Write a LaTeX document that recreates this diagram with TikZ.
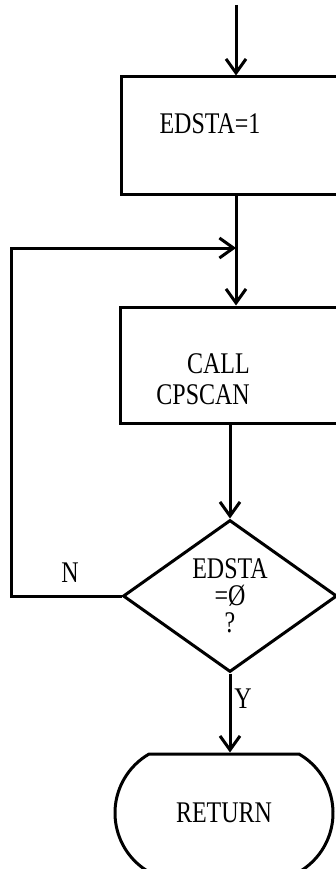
\documentclass[tikz,border=0pt]{standalone}
\usepackage{fontspec}
\setmainfont{Liberation Serif}[FakeStretch=0.8]
\usetikzlibrary{arrows.meta,shapes.geometric,shapes.misc}
\tikzset{
  ln/.style={line width=3pt},
  arr/.style={ln,-{Straight Barb[length=14pt,width=20pt,line width=3pt]}},
  procbox/.style={ln,draw,rectangle,inner sep=0pt},
  txt/.style={inner sep=0pt,font=\fontsize{30}{31}\selectfont},
  decis/.style={ln,draw,diamond,inner sep=0pt,align=center,font=\fontsize{30}{27}\selectfont},
  term/.style={ln,draw,rounded rectangle,rounded rectangle arc length=120,inner sep=0pt,font=\fontsize{30}{31}\selectfont}
}
\begin{document}
\begin{tikzpicture}[x=1pt,y=-1pt]
\useasboundingbox (0,0) rectangle (336,869);
\clip (0,0) rectangle (336,869);
\fill[white] (0,0) rectangle (336,869);
% nodes
\coordinate (start) at (236,5);
\node[procbox,minimum width=229pt,minimum height=117pt] (box1) at (235.5,135.5) {};
\node[txt,anchor=base] (t1) at (210,134) {EDSTA=1};
\coordinate (J) at (236,248);
\node[procbox,minimum width=230pt,minimum height=116pt] (box2) at (235,365) {};
\node[txt,align=right,anchor=east] (t2) at (250,379) {CALL\\CPSCAN};
\node[decis,minimum width=214pt,minimum height=152pt] (dia) at (230,596) {EDSTA\\=Ø\\?};
\node[term,minimum width=218pt,minimum height=118pt] (ret) at (224,813) {RETURN};
\coordinate (c1) at (11,596);
\coordinate (c2) at (11,248);
\node[txt] (lN) at (70,573) {N};
\node[txt] (lY) at (243,699) {Y};
% connectors
\draw[arr] (start) -- (start |- box1.north);
\draw[arr] (box1.south -| J) -- (box2.north -| J);
\draw[arr] (dia.west) -- (c1) -- (c2) -- (J);
\draw[arr] (box2.south -| dia.north) -- (dia.north);
\draw[arr] (dia.south) -- (dia.south |- ret.north);
\end{tikzpicture}
\end{document}
